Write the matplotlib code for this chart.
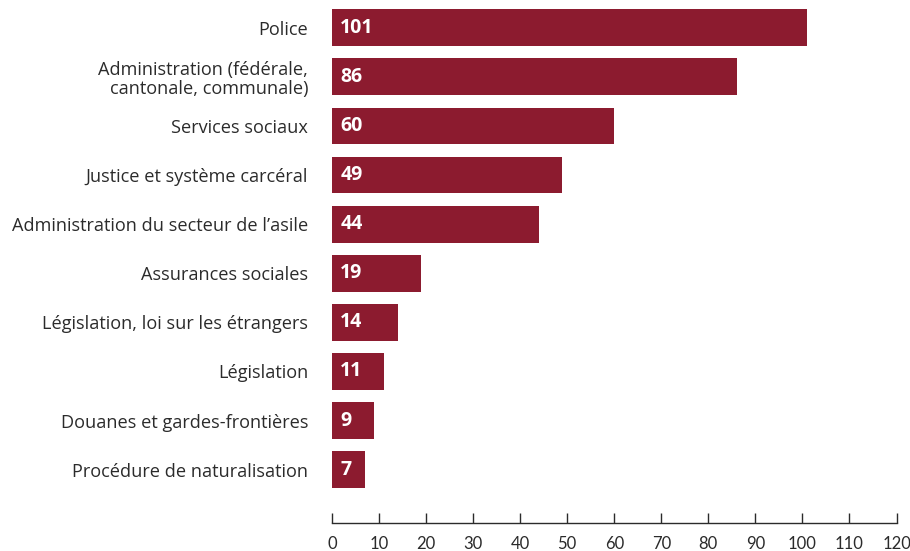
import numpy as np
from matplotlib import pyplot as plt
plt.rcParams['font.family'] = ['Open Sans', 'DejaVu Sans']

categories = ['Police',
              'Administration (fédérale,\ncantonale, communale)',
              'Services sociaux',
              'Justice et système carcéral',
              "Administration du secteur de l’asile",
              'Assurances sociales',
              'Législation, loi sur les étrangers',
              'Législation',
              'Douanes et gardes-frontières',
              'Procédure de naturalisation']
counts = [101, 86, 60, 49, 44, 19, 14, 11, 9, 7]
xticks = np.arange(0, 121, 10)

bar_color = '#8c1b2f'
text_color = '#2b2b2b'

fig = plt.figure(figsize=(9.1, 5.51), dpi=100)
ax = fig.add_axes([0.3648, 0.0508, 0.6204, 0.9434])

y = np.arange(len(categories))
ax.barh(y, counts, height=0.75, color=bar_color)

# value labels sit just inside the left end of each bar
for yi, v in zip(y, counts):
  ax.annotate(f'{v}', xy=(0, yi), xytext=(6, 0), textcoords='offset points',
              color='white', fontsize=14, fontweight='bold',
              va='center', ha='left')

ax.set_yticks(y)
ax.set_yticklabels(categories, fontsize=13.1, color=text_color, linespacing=1.1)
ax.tick_params(axis='y', length=0, pad=17)

ax.set_xlim(0, 120)
ax.set_ylim(10.087, -0.5)
ax.set_xticks(xticks)
ax.tick_params(axis='x', direction='in', length=7.5, width=1, color=text_color,
               labelsize=12, labelcolor=text_color, pad=9)
for lbl in ax.get_xticklabels():
  lbl.set_fontfamily(['Lato', 'DejaVu Sans'])

for s in ['top', 'right', 'left']:
  ax.spines[s].set_visible(False)
ax.spines['bottom'].set_color(text_color)
ax.spines['bottom'].set_linewidth(1)

plt.savefig('out.png', dpi=100)
